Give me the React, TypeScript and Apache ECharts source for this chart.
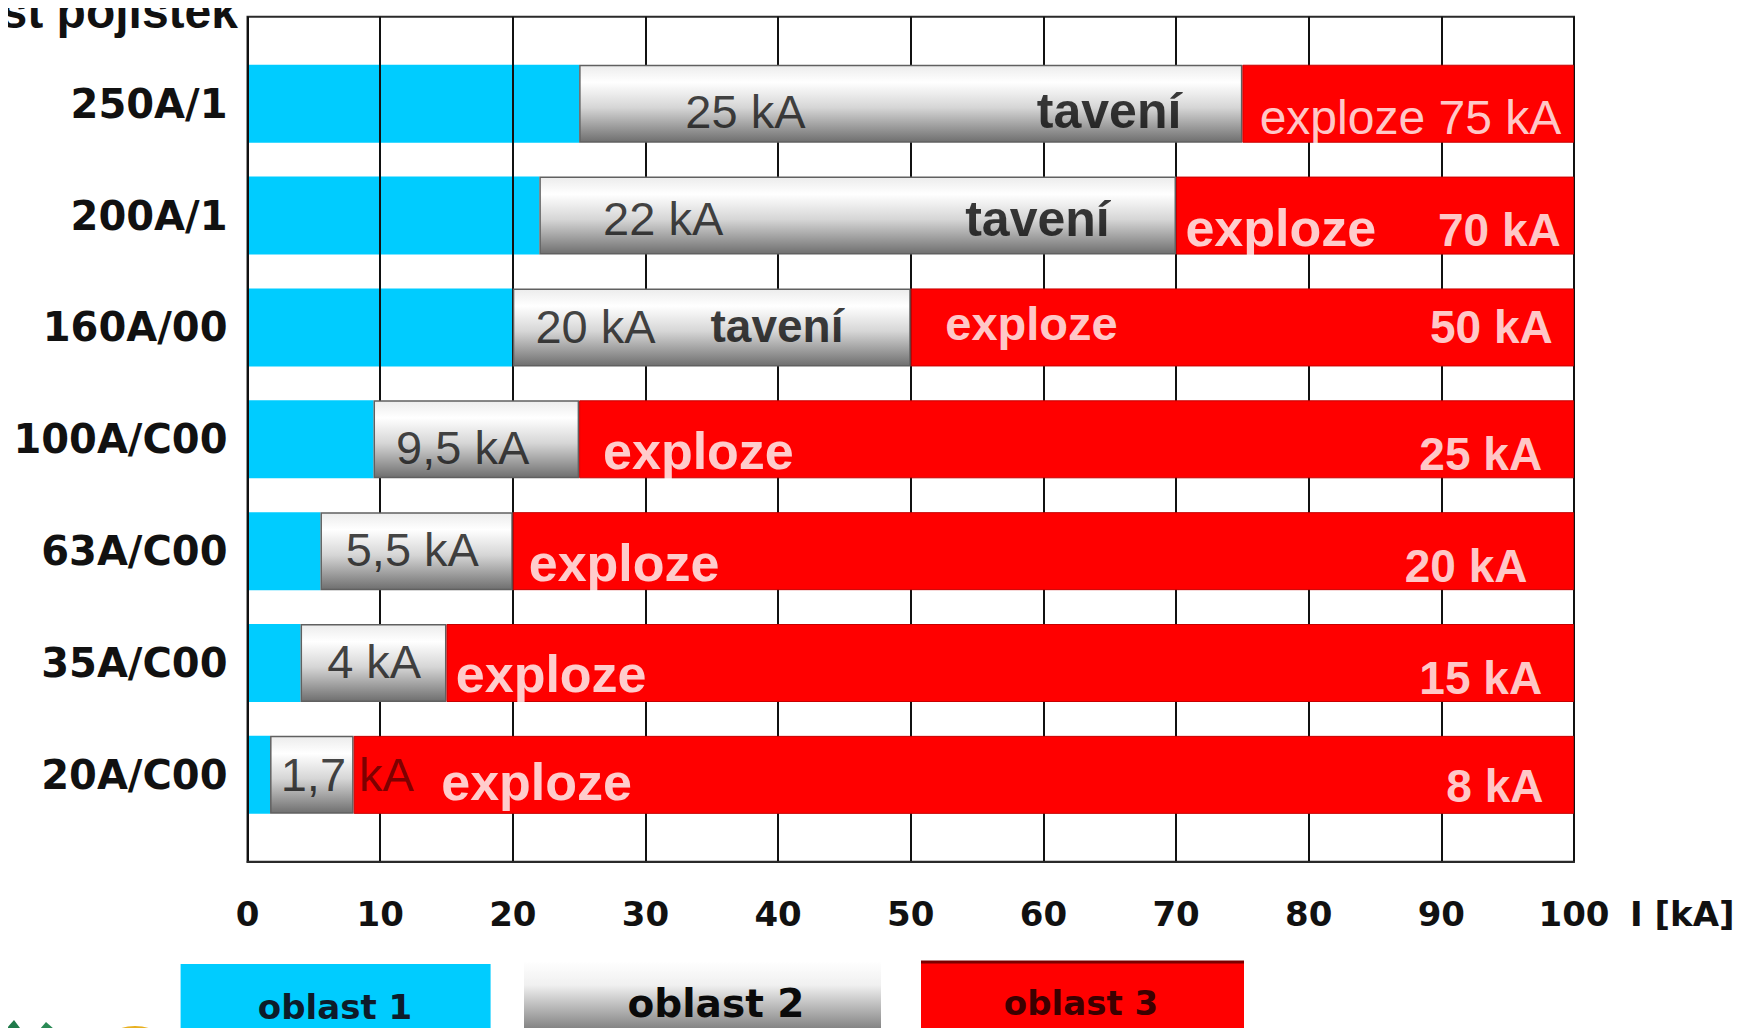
import React, { useEffect, useRef } from "react";
import * as echarts from "echarts";

// Fuse sizes, top to bottom
const fuses = ["250A/1", "200A/1", "160A/00", "100A/C00", "63A/C00", "35A/C00", "20A/C00"];
// Upper bound of region 1 (kA) for each fuse
const region1End = [25, 22, 20, 9.5, 5.5, 4, 1.7];
// Upper bound of region 2, melting (kA) for each fuse
const region2End = [75, 70, 50, 25, 20, 15, 8];
// End of the current scale (kA)
const scaleEnd = 100;
const regionNames = ["oblast 1", "oblast 2", "oblast 3"];
const axisTitle = "I [kA]";
const heading = "Velikost pojistek";
const meltWord = "tavení";
const blastWord = "exploze";

// Text placement inside the bars: row, x in kA, kind, vertical nudge (px)
type Note = { row: number; at: number; kind: string; dy: number; size?: number; unitOnRed?: boolean };
const notes: Note[] = [
  { row: 0, at: 33.0, kind: "low", dy: 8 },
  { row: 0, at: 59.5, kind: "melt", dy: 7 },
  { row: 0, at: 76.3, kind: "blastHigh", dy: 14 },
  { row: 1, at: 26.8, kind: "low", dy: 3 },
  { row: 1, at: 54.1, kind: "melt", dy: 3 },
  { row: 1, at: 70.7, kind: "blast", dy: 12 },
  { row: 1, at: 99.0, kind: "high", dy: 14 },
  { row: 2, at: 21.7, kind: "low", dy: -1 },
  { row: 2, at: 34.9, kind: "melt", dy: -1, size: 46 },
  { row: 2, at: 52.6, kind: "blast", dy: -4, size: 47 },
  { row: 2, at: 98.4, kind: "high", dy: 0 },
  { row: 3, at: 11.2, kind: "low", dy: 8 },
  { row: 3, at: 26.8, kind: "blast", dy: 12 },
  { row: 3, at: 97.6, kind: "high", dy: 15 },
  { row: 4, at: 7.4, kind: "low", dy: -2 },
  { row: 4, at: 21.2, kind: "blast", dy: 12 },
  { row: 4, at: 96.5, kind: "high", dy: 15 },
  { row: 5, at: 6.0, kind: "low", dy: -2 },
  { row: 5, at: 15.7, kind: "blast", dy: 11 },
  { row: 5, at: 97.6, kind: "high", dy: 15 },
  { row: 6, at: 2.5, kind: "low", dy: 0, unitOnRed: true },
  { row: 6, at: 14.6, kind: "blast", dy: 7 },
  { row: 6, at: 97.7, kind: "high", dy: 11 },
];

const SANS = "'Liberation Sans', Arial, sans-serif";
const WIDE = "'DejaVu Sans', Verdana, sans-serif";
const NBSP = "\u00a0";

const fmt = (v: number) => String(v).replace(".", ",");

function noteItem(n: Note) {
  const low = fmt(region1End[n.row]);
  const high = fmt(region2End[n.row]);
  let label: any;
  if (n.kind === "low") {
    label = n.unitOnRed
      ? {
          position: "right",
          formatter: `{n|${low}${NBSP}}{u|kA}`,
          rich: {
            n: { fontFamily: SANS, fontSize: 47, color: "#141414" },
            u: { fontFamily: SANS, fontSize: 47, color: "#5a0000" },
          },
        }
      : {
          position: "right",
          formatter: `${low} kA`,
          fontFamily: SANS,
          fontSize: 47,
          color: "#141414",
        };
  } else if (n.kind === "melt") {
    label = {
      position: "right",
      formatter: meltWord,
      fontFamily: SANS,
      fontWeight: "bold",
      fontSize: n.size ?? 50,
      color: "#0a0a0a",
    };
  } else if (n.kind === "blast") {
    label = {
      position: "right",
      formatter: blastWord,
      fontFamily: SANS,
      fontWeight: "bold",
      fontSize: n.size ?? 52,
      color: "#ffffff",
    };
  } else if (n.kind === "high") {
    label = {
      position: "left",
      formatter: `${high} kA`,
      fontFamily: SANS,
      fontWeight: "bold",
      fontSize: 46,
      color: "#ffffff",
    };
  } else {
    label = {
      position: "right",
      formatter: `${blastWord} ${high} kA`,
      fontFamily: SANS,
      fontSize: 48,
      color: "#ffffff",
    };
  }
  return {
    value: [n.at, n.row],
    label: { show: true, distance: 0, offset: [0, n.dy], ...label },
  };
}

export default function App() {
  const ref = useRef<HTMLDivElement>(null);

  useEffect(() => {
    if (!ref.current) return;
    const chart = echarts.init(ref.current, undefined, { renderer: "svg" });

    const frame = { left: 247.5, top: 16.7, width: 1326.5, height: 845 };
    const rows = { top: 47.8, height: 783 };

    const grayFill = new echarts.graphic.LinearGradient(0, 0, 0, 1, [
      { offset: 0, color: "#ececec" },
      { offset: 0.22, color: "#ffffff" },
      { offset: 0.55, color: "#d6d6d6" },
      { offset: 1, color: "#6f6f6f" },
    ]);
    const legendGray = new echarts.graphic.LinearGradient(0, 0, 0, 1, [
      { offset: 0, color: "#ffffff" },
      { offset: 0.3, color: "#f0f0f0" },
      { offset: 1, color: "#646464" },
    ]);

    const option: any = {
      animation: false,
      backgroundColor: "#ffffff",
      grid: [
        {
          left: frame.left,
          top: frame.top,
          width: frame.width,
          height: frame.height,
          show: true,
          borderColor: "#2a2a2a",
          borderWidth: 2,
          backgroundColor: "transparent",
        },
        { left: frame.left, top: rows.top, width: frame.width, height: rows.height },
      ],
      xAxis: [
        {
          gridIndex: 0,
          type: "value",
          min: 0,
          max: scaleEnd,
          interval: 10,
          z: 2,
          axisLine: { show: true, lineStyle: { color: "#2a2a2a", width: 2 } },
          axisTick: { show: false },
          splitLine: { show: true, lineStyle: { color: "#111111", width: 2 } },
          axisLabel: {
            margin: 35,
            fontFamily: WIDE,
            fontWeight: "bold",
            fontSize: 34,
            color: "#111111",
          },
        },
        { gridIndex: 1, type: "value", min: 0, max: scaleEnd, show: false },
      ],
      yAxis: [
        { gridIndex: 0, type: "value", show: false },
        {
          gridIndex: 1,
          type: "category",
          inverse: true,
          data: fuses,
          axisLine: { show: false },
          axisTick: { show: false },
          splitLine: { show: false },
          axisLabel: {
            margin: 20,
            fontFamily: WIDE,
            fontWeight: "bold",
            fontSize: 40,
            color: "#111111",
          },
        },
      ],
      series: [
        {
          name: regionNames[0],
          type: "bar",
          xAxisIndex: 1,
          yAxisIndex: 1,
          stack: "range",
          barWidth: 78,
          z: 1,
          itemStyle: { color: "#00CCFF" },
          data: region1End,
        },
        {
          name: regionNames[1],
          type: "bar",
          xAxisIndex: 1,
          yAxisIndex: 1,
          stack: "range",
          barWidth: 78,
          z: 3,
          itemStyle: { color: grayFill, borderColor: "#606060", borderWidth: 1.5 },
          data: region2End.map((v, i) => v - region1End[i]),
        },
        {
          name: regionNames[2],
          type: "bar",
          xAxisIndex: 1,
          yAxisIndex: 1,
          stack: "range",
          barWidth: 78,
          z: 3,
          itemStyle: { color: "#FF0000", borderColor: "#c80000", borderWidth: 1 },
          data: region2End.map((v) => scaleEnd - v),
        },
        {
          type: "scatter",
          xAxisIndex: 1,
          yAxisIndex: 1,
          symbolSize: 0.1,
          silent: true,
          z: 5,
          itemStyle: { color: "transparent" },
          data: notes.map(noteItem),
        },
      ],
      graphic: [
        {
          type: "text",
          x: 238,
          y: 11,
          style: {
            text: heading,
            align: "right",
            verticalAlign: "middle",
            fontFamily: SANS,
            fontWeight: "bold",
            fontSize: 48,
            fill: "#111111",
          },
        },
        {
          type: "text",
          x: 1630,
          y: 914,
          style: {
            text: axisTitle,
            align: "left",
            verticalAlign: "middle",
            fontFamily: WIDE,
            fontWeight: "bold",
            fontSize: 34,
            fill: "#111111",
          },
        },
        // region key
        { type: "rect", shape: { x: 180.6, y: 964, width: 310, height: 80 }, style: { fill: "#00CCFF" } },
        {
          type: "text",
          x: 335,
          y: 1007,
          style: {
            text: regionNames[0],
            align: "center",
            verticalAlign: "middle",
            fontFamily: WIDE,
            fontWeight: "bold",
            fontSize: 34,
            fill: "#0d1b2a",
          },
        },
        { type: "rect", shape: { x: 524, y: 961, width: 357, height: 80 }, style: { fill: legendGray } },
        {
          type: "text",
          x: 716,
          y: 1003,
          style: {
            text: regionNames[1],
            align: "center",
            verticalAlign: "middle",
            fontFamily: WIDE,
            fontWeight: "bold",
            fontSize: 39,
            fill: "#0a0a0a",
          },
        },
        { type: "rect", shape: { x: 921, y: 961, width: 323, height: 80 }, style: { fill: "#FF0000" } },
        { type: "line", shape: { x1: 921, y1: 962, x2: 1244, y2: 962 }, style: { stroke: "#7a0000", lineWidth: 3 } },
        {
          type: "text",
          x: 1081,
          y: 1003,
          style: {
            text: regionNames[2],
            align: "center",
            verticalAlign: "middle",
            fontFamily: WIDE,
            fontWeight: "bold",
            fontSize: 34,
            fill: "#3b0000",
          },
        },
        // corner emblem
        { type: "polygon", shape: { points: [[0, 1036], [14, 1020], [26, 1036]] }, style: { fill: "#1f7a4a" } },
        { type: "polygon", shape: { points: [[34, 1036], [46, 1022], [62, 1036]] }, style: { fill: "#2a8a55" } },
        { type: "ellipse", shape: { cx: 135, cy: 1042, rx: 28, ry: 16 }, style: { fill: "#e8b020" } },
      ],
    };

    chart.setOption(option);
    return () => chart.dispose();
  }, []);

  return <div ref={ref} style={{ width: 1748, height: 1036, margin: -8 }} />;
}
